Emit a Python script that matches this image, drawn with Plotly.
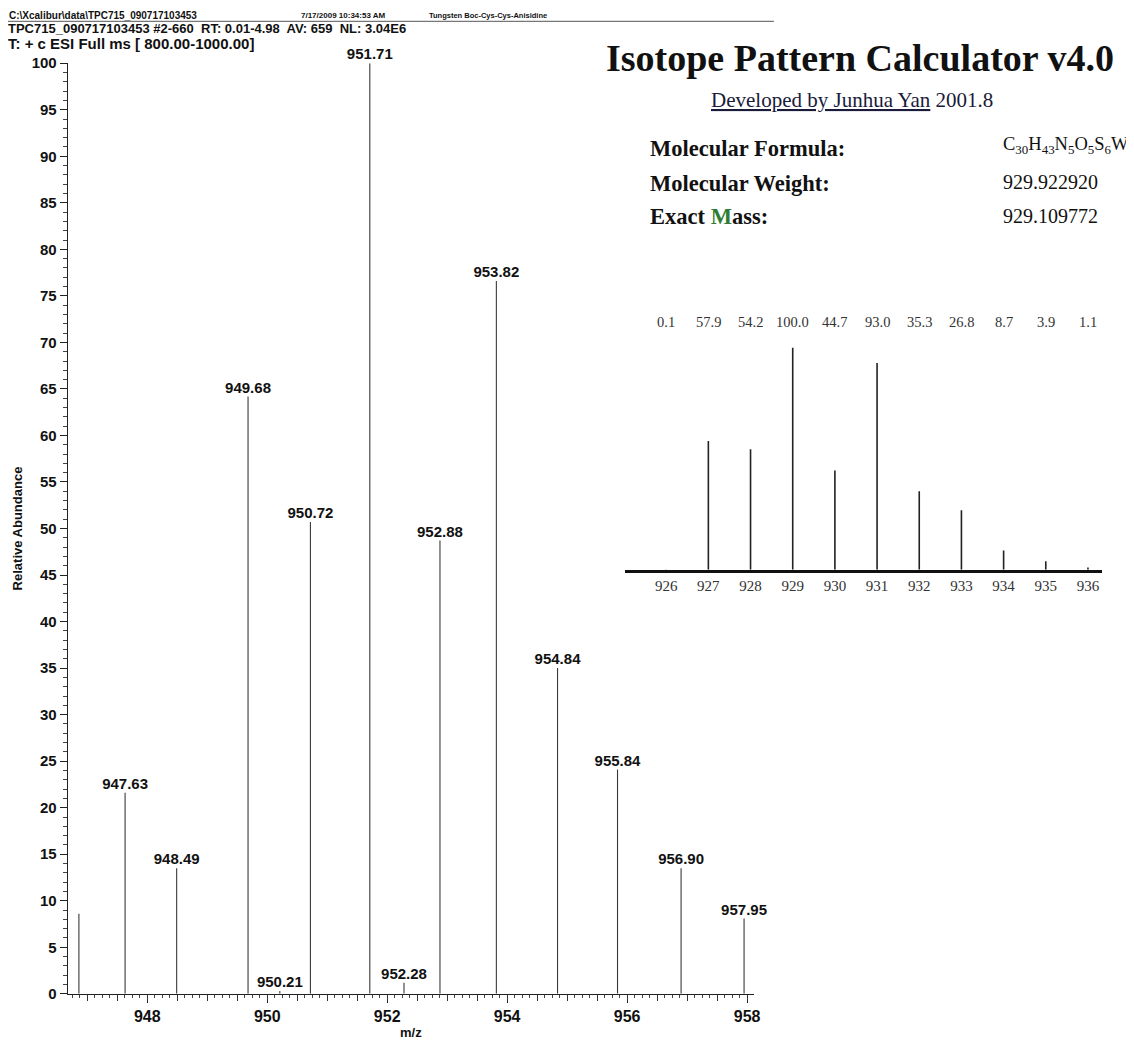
import plotly.graph_objects as go

W, H = 1134, 1043

def px(x):
    return x / W

def py(y):
    return 1 - y / H

# ---------------- data ----------------
# measured spectrum (m/z, relative abundance)
peak_mz = [946.86, 947.63, 948.49, 949.68, 950.21, 950.72, 951.71, 952.28,
           952.88, 953.82, 954.84, 955.84, 956.90, 957.95]
peak_abundance = [8.6, 21.6, 13.5, 64.2, 0.3, 50.7, 100.0, 1.2,
                  48.7, 76.6, 35.0, 24.1, 13.5, 8.1]
peak_labels = ["", "947.63", "948.49", "949.68", "950.21", "950.72", "951.71",
               "952.28", "952.88", "953.82", "954.84", "955.84", "956.90", "957.95"]

x_tick_values = [948, 950, 952, 954, 956, 958]
y_tick_values = [0, 5, 10, 15, 20, 25, 30, 35, 40, 45, 50, 55, 60, 65, 70, 75, 80, 85, 90, 95, 100]

# calculated isotope pattern (inset)
calc_mass = [926, 927, 928, 929, 930, 931, 932, 933, 934, 935, 936]
calc_abundance = [0.1, 57.9, 54.2, 100.0, 44.7, 93.0, 35.3, 26.8, 8.7, 3.9, 1.1]

# ---------------- traces ----------------
stick_x, stick_y = [], []
for m, a in zip(peak_mz, peak_abundance):
    stick_x += [m, m, None]
    stick_y += [0, a, None]

inset_x, inset_y = [], []
for m, a in zip(calc_mass, calc_abundance):
    inset_x += [m, m, None]
    inset_y += [0, a, None]

fig = go.Figure()

fig.add_trace(go.Scatter(x=stick_x, y=stick_y, mode="lines",
                         line=dict(color="#3a3a3a", width=1.1),
                         hoverinfo="skip", showlegend=False,
                         xaxis="x", yaxis="y"))

lab_x = [m for m, l in zip(peak_mz, peak_labels) if l]
lab_y = [a for a, l in zip(peak_abundance, peak_labels) if l]
lab_t = [l for l in peak_labels if l]
fig.add_trace(go.Scatter(x=lab_x, y=lab_y, text=lab_t, mode="text",
                         textposition="top center",
                         textfont=dict(family="Liberation Sans", size=15,
                                       color="#111111", weight="bold"),
                         cliponaxis=False, showlegend=False, hoverinfo="skip",
                         xaxis="x", yaxis="y"))

# dummy trace for the secondary (half-unit) tick axis
fig.add_trace(go.Scatter(x=[], y=[], xaxis="x3", yaxis="y", showlegend=False,
                         hoverinfo="skip"))

fig.add_trace(go.Scatter(x=inset_x, y=inset_y, mode="lines",
                         line=dict(color="#222222", width=1.6),
                         hoverinfo="skip", showlegend=False,
                         xaxis="x2", yaxis="y2"))

main_x_range = [946.673, 958.116]
main_x_domain = [px(60), px(750)]

inset_bottom, inset_top = 562, 336   # pixel rows of the inset baseline / 100 %

fig.update_layout(
    width=W, height=H,
    margin=dict(l=0, r=0, t=0, b=0),
    paper_bgcolor="white", plot_bgcolor="white",
    showlegend=False,
    xaxis=dict(domain=main_x_domain, range=main_x_range, anchor="y",
               tickmode="array", tickvals=x_tick_values,
               ticktext=[str(v) for v in x_tick_values],
               ticks="outside", ticklen=8, tickwidth=1, tickcolor="#222",
               minor=dict(tickmode="linear", tick0=946, dtick=0.125,
                          ticks="outside", ticklen=3, tickcolor="#444"),
               showline=True, linecolor="#222", linewidth=1,
               showgrid=False, zeroline=False,
               tickfont=dict(family="Liberation Sans", size=16, color="#111", weight="bold"),
               title=dict(text="m/z", standoff=2,
                          font=dict(family="Liberation Sans", size=13, color="#111", weight="bold"))),
    xaxis3=dict(domain=main_x_domain, range=main_x_range, overlaying="x", anchor="y",
                tickmode="linear", tick0=947, dtick=0.5,
                ticks="outside", ticklen=6, tickcolor="#333",
                showticklabels=False, showline=False, showgrid=False, zeroline=False),
    yaxis=dict(domain=[py(993), py(47)], range=[0, 100], anchor="x",
               tickmode="array", tickvals=y_tick_values,
               ticks="outside", ticklen=7, tickcolor="#222",
               minor=dict(tickmode="linear", tick0=0, dtick=1,
                          ticks="outside", ticklen=4, tickcolor="#444"),
               showline=True, linecolor="#222", linewidth=1,
               showgrid=False, zeroline=False,
               tickfont=dict(family="Liberation Sans", size=15, color="#111", weight="bold"),
               title=dict(text="Relative Abundance", standoff=6,
                          font=dict(family="Liberation Sans", size=13, color="#111", weight="bold"))),
    xaxis2=dict(domain=[px(620), px(1100)], range=[925.017, 936.337], anchor="y2",
                tickmode="array", tickvals=calc_mass,
                ticks="", showline=True, linecolor="#111", linewidth=2.5,
                showgrid=False, zeroline=False,
                tickfont=dict(family="Liberation Serif", size=15, color="#333")),
    yaxis2=dict(domain=[py(inset_bottom), py(inset_top)], range=[0, 100], anchor="x2",
                visible=False, showgrid=False, zeroline=False),
)

ann = []

def text(x, y, s, size, family="Liberation Sans", color="#111", xanchor="left", weight="normal"):
    ann.append(dict(x=px(x), y=py(y), xref="paper", yref="paper", text=s,
                    showarrow=False, xanchor=xanchor, yanchor="middle",
                    font=dict(family=family, size=size, color=color, weight=weight)))

# header
text(-1, -2, "C:\\Xcalibur\\data\\TPC715_090717103453", 10, weight="bold")
text(293, -2, "7/17/2009 10:34:53 AM", 8, weight="bold")
text(421, -2, "Tungsten Boc-Cys-Cys-Anisidine", 7.5, weight="bold")
text(-2, 12, "TPC715_090717103453 #2-660  RT: 0.01-4.98  AV: 659  NL: 3.04E6", 13, weight="bold")
text(-2, 27, "T: + c ESI Full ms [ 800.00-1000.00]", 15, weight="bold")

# isotope calculator text block
text(857, 42, "<b>Isotope Pattern Calculator v4.0</b>", 38, family="Liberation Serif",
     color="#111", xanchor="center")
text(848, 84, "<u>Developed by Junhua Yan</u> 2001.8", 21, family="Liberation Serif",
     color="#1a1a3a", xanchor="center")
text(643, 134, "<b>Molecular Formula:</b>", 22.5, family="Liberation Serif")
text(643, 169, "<b>Molecular Weight:</b>", 22.5, family="Liberation Serif")
text(643, 203, "<b>Exact <span style='color:#2e7d32'>M</span>ass:</b>", 22.5, family="Liberation Serif")
text(998, 131, "C<sub>30</sub>H<sub>43</sub>N<sub>5</sub>O<sub>5</sub>S<sub>6</sub>W", 18.5,
     family="Liberation Serif")
text(998, 168, "929.922920", 20, family="Liberation Serif")
text(998, 202, "929.109772", 20, family="Liberation Serif")

# inset value labels above each calculated peak (row just above the 100 % level)
for m, v in zip(calc_mass, calc_abundance):
    ann.append(dict(x=m, y=py(inset_top - 26), xref="x2", yref="paper", text=f"{v:.1f}",
                    showarrow=False, xanchor="center", yanchor="middle",
                    font=dict(family="Liberation Serif", size=14.5, color="#333")))

fig.update_layout(
    annotations=ann,
    shapes=[dict(type="line", xref="paper", yref="paper",
                 x0=0, x1=px(770), y0=py(4.5), y1=py(4.5),
                 line=dict(color="#777", width=1.2))],
)

fig.write_html("out.html")
